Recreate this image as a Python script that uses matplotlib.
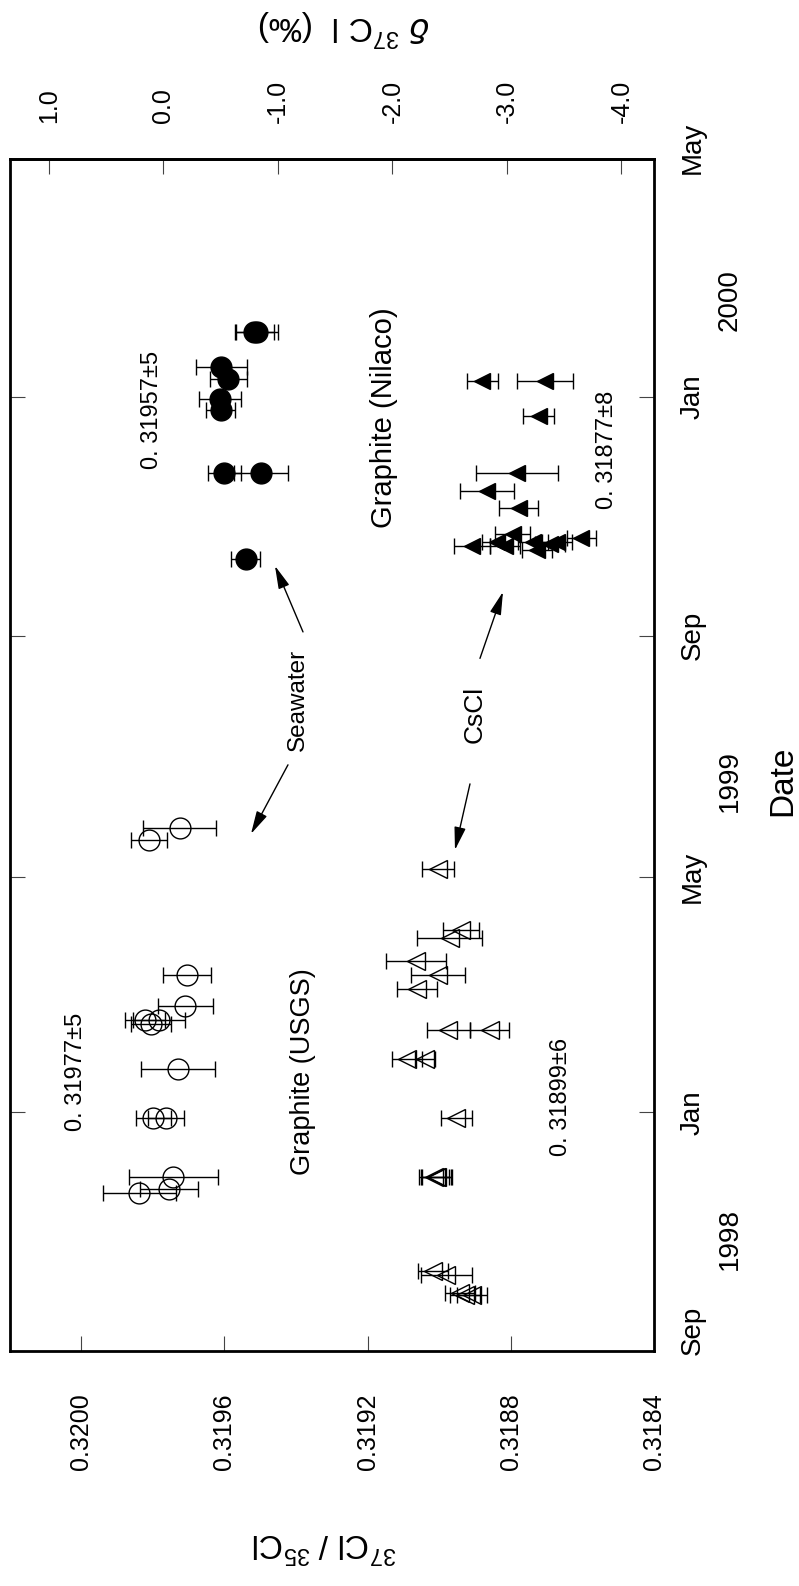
import numpy as np
import matplotlib
matplotlib.use("Agg")
import matplotlib.pyplot as plt
import matplotlib.dates as mdates
from matplotlib import font_manager
from matplotlib.transforms import blended_transform_factory, ScaledTranslation

plt.rcParams['font.family'] = ['Liberation Sans', 'DejaVu Sans']
plt.rcParams['mathtext.fontset'] = 'custom'
plt.rcParams['mathtext.rm'] = 'Liberation Sans'

names = {f.name for f in font_manager.fontManager.ttflist}
narrow = 'Liberation Sans Narrow' if 'Liberation Sans Narrow' in names else 'Liberation Sans'

# seawater, measured against USGS graphite (open circles)
sw_usgs_date = ['1999-05-26', '1999-05-20', '1999-03-12', '1999-02-24', '1999-02-17',
                '1999-02-17', '1999-02-15', '1999-01-23', '1998-12-29', '1998-12-29',
                '1998-11-29', '1998-11-23', '1998-11-21']
sw_usgs_ratio = [0.319724, 0.319810, 0.319705, 0.319709, 0.319782,
                 0.319822, 0.319806, 0.319729, 0.319798, 0.319763,
                 0.319743, 0.319754, 0.319837]
sw_usgs_err = [1.02e-4, 5.0e-5, 6.7e-5, 7.6e-5, 7.3e-5,
               5.6e-5, 5.6e-5, 1.03e-4, 5.0e-5, 5.0e-5,
               1.24e-4, 8.1e-5, 1.03e-4]

# seawater, measured against Nilaco graphite (filled circles)
sw_nil_date = ['2000-02-03', '2000-02-03', '2000-01-16', '2000-01-10', '1999-12-31',
               '1999-12-25', '1999-11-23', '1999-11-23', '1999-10-10']
sw_nil_ratio = [0.319516, 0.319508, 0.319609, 0.319589, 0.319612,
                0.319610, 0.319600, 0.319498, 0.319540]
sw_nil_err = [5.4e-5, 5.9e-5, 7.1e-5, 5.2e-5, 5.9e-5,
              4.0e-5, 4.6e-5, 7.5e-5, 4.0e-5]

# CsCl, USGS period (open triangles)
cs_usgs_date = ['1999-05-05', '1999-04-04', '1999-03-31', '1999-03-19', '1999-03-12',
                '1999-03-05', '1999-02-12', '1999-02-12', '1999-01-28', '1999-01-28',
                '1998-12-29', '1998-11-29', '1998-11-29', '1998-11-29', '1998-10-12',
                '1998-10-10', '1998-10-01', '1998-09-30', '1998-09-30']
cs_usgs_ratio = [0.319003, 0.318938, 0.318971, 0.319065, 0.319004,
                 0.319063, 0.318974, 0.318859, 0.319091, 0.319040,
                 0.318952, 0.319014, 0.319010, 0.319006, 0.319016,
                 0.318980, 0.318942, 0.318928, 0.318909]
cs_usgs_err = [4.4e-5, 5.0e-5, 9.0e-5, 8.4e-5, 7.6e-5,
               5.6e-5, 6.1e-5, 5.5e-5, 4.2e-5, 2.8e-5,
               4.3e-5, 4.2e-5, 4.2e-5, 4.2e-5, 4.2e-5,
               7.2e-5, 4.2e-5, 4.2e-5, 4.2e-5]

# CsCl, Nilaco period (filled triangles)
cs_nil_date = ['2000-01-09', '2000-01-09', '1999-12-22', '1999-11-23', '1999-11-14',
               '1999-11-05', '1999-10-23', '1999-10-17', '1999-10-19', '1999-10-17',
               '1999-10-19', '1999-10-15', '1999-10-18', '1999-10-19', '1999-10-21']
cs_nil_ratio = [0.318880, 0.318704, 0.318722, 0.318782, 0.318867,
                0.318778, 0.318795, 0.318909, 0.318839, 0.318816,
                0.318737, 0.318728, 0.318690, 0.318672, 0.318603]
cs_nil_err = [4.3e-5, 7.8e-5, 4.3e-5, 1.15e-4, 7.5e-5,
              5.4e-5, 5.0e-5, 5.0e-5, 4.2e-5, 4.2e-5,
              4.2e-5, 4.2e-5, 4.2e-5, 4.2e-5, 4.1e-5]

ratio_ticks = [0.3200, 0.3196, 0.3192, 0.3188, 0.3184]
delta_ticks = [1.0, 0.0, -1.0, -2.0, -3.0, -4.0]
r_std = 0.31977
date_ticks = ['1998-09-01', '1999-01-01', '1999-05-01', '1999-09-01', '2000-01-01', '2000-05-01']
month_names = ['Sep', 'Jan', 'May', 'Sep', 'Jan', 'May']
years = ['1998', '1999', '2000']

fig = plt.figure(figsize=(7.99, 15.86), dpi=100)
ax = fig.add_axes([0.0119, 0.1479, 0.8066, 0.7516])

common = dict(ecolor='black', elinewidth=1.0, capsize=6, capthick=1.0, mec='black', mew=1.0, ls='none')
ax.errorbar(sw_usgs_ratio, np.array(sw_usgs_date, dtype='datetime64[D]'), xerr=sw_usgs_err,
            marker='o', ms=15, mfc='none', **common)
ax.errorbar(sw_nil_ratio, np.array(sw_nil_date, dtype='datetime64[D]'), xerr=sw_nil_err,
            marker='o', ms=15, mfc='black', **common)
ax.errorbar(cs_usgs_ratio, np.array(cs_usgs_date, dtype='datetime64[D]'), xerr=cs_usgs_err,
            marker='<', ms=13, mfc='none', **common)
ax.errorbar(cs_nil_ratio, np.array(cs_nil_date, dtype='datetime64[D]'), xerr=cs_nil_err,
            marker='<', ms=12, mfc='black', **common)

ax.set_xlim(0.3202, 0.3184)
ax.set_ylim(np.datetime64('1998-09-01'), np.datetime64('2000-05-01'))

for s in ax.spines.values():
    s.set_linewidth(2.0)

# ratio axis (bottom)
ax.set_xticks(ratio_ticks)
ax.set_xticklabels(['%.4f' % v for v in ratio_ticks])
ax.tick_params(axis='x', direction='in', length=11, width=0.8, color='#444444',
               labelsize=18, labelrotation=90, pad=30)

# date axis (ticks on both sides, labels drawn by hand)
dnum = mdates.date2num(np.array(date_ticks, dtype='datetime64[D]'))
ax.set_yticks(dnum)
ax.set_yticklabels([])
ax.tick_params(axis='y', direction='in', length=11, width=0.8, color='#444444',
               left=True, right=True, labelleft=False, labelright=False)

tr = blended_transform_factory(ax.transAxes, ax.transData)
month_shift = [21, 0, 0, 0, 0, 12]  # pixels, end labels sit a little inside
for d, m, sh in zip(dnum, month_names, month_shift):
    ax.text(1.0605, d, m, transform=tr + ScaledTranslation(0, sh / 100, fig.dpi_scale_trans),
            rotation=90, ha='center', va='center', fontsize=20)
year_pos = [0.0944, 0.4786, 0.882]
for yp, yr in zip(year_pos, years):
    ax.text(1.118, yp, yr, transform=ax.transAxes, rotation=90, ha='center', va='center', fontsize=20)
ax.text(1.20, 0.4786, 'Date', transform=ax.transAxes, rotation=90, ha='center', va='center', fontsize=24)

# delta axis (top)
sec = ax.secondary_xaxis('top', functions=(lambda r: (r / r_std - 1) * 1000,
                                           lambda d: r_std * (1 + d / 1000)))
sec.set_xticks(delta_ticks)
sec.set_xticklabels(['%.1f' % (v + 0.0) for v in delta_ticks])
sec.tick_params(axis='x', direction='in', length=11, width=0.8, color='#444444',
                labelsize=18, labelrotation=90, pad=26)
sec.spines['top'].set_linewidth(2.0)

fig.text(0.4305, 0.983, r'$\delta$ $^{37}$C l  (‰)', rotation=180, ha='center', va='center', fontsize=24)
fig.text(0.4055, 0.027, r'$^{37}$Cl / $^{35}$Cl', rotation=180, ha='center', va='center', fontsize=24)

# annotations
labels = [
    (0.2211, 0.790, '0. 31957±5', narrow, 17),
    (0.5811, 0.7837, 'Graphite (Nilaco)', 'Liberation Sans', 21),
    (0.9271, 0.7563, '0. 31877±8', narrow, 17),
    (0.4476, 0.5465, 'Seawater', 'Liberation Sans', 17.5),
    (0.7222, 0.5340, 'CsCl', 'Liberation Sans', 19),
    (0.1032, 0.2345, '0. 31977±5', narrow, 17),
    (0.4554, 0.2345, 'Graphite (USGS)', 'Liberation Sans', 19.5),
    (0.8557, 0.2135, '0. 31899±6', narrow, 17),
]
for x, y, t, fam, fs in labels:
    ax.text(x, y, t, transform=ax.transAxes, rotation=90, ha='center', va='center',
            fontsize=fs, family=[fam, 'DejaVu Sans'])

arrows = [
    ((0.4554, 0.6036), (0.4119, 0.6590)),
    ((0.4321, 0.4921), (0.3747, 0.4342)),
    ((0.7300, 0.5814), (0.7657, 0.6372)),
    ((0.7145, 0.4761), (0.6912, 0.4207)),
]
for tail, head in arrows:
    ax.annotate('', xy=head, xytext=tail, xycoords='axes fraction', textcoords='axes fraction',
                arrowprops=dict(arrowstyle='-|>,head_length=1.4,head_width=0.35', color='black',
                                lw=1.0, shrinkA=0, shrinkB=0))

fig.savefig('out.png', dpi=100)
